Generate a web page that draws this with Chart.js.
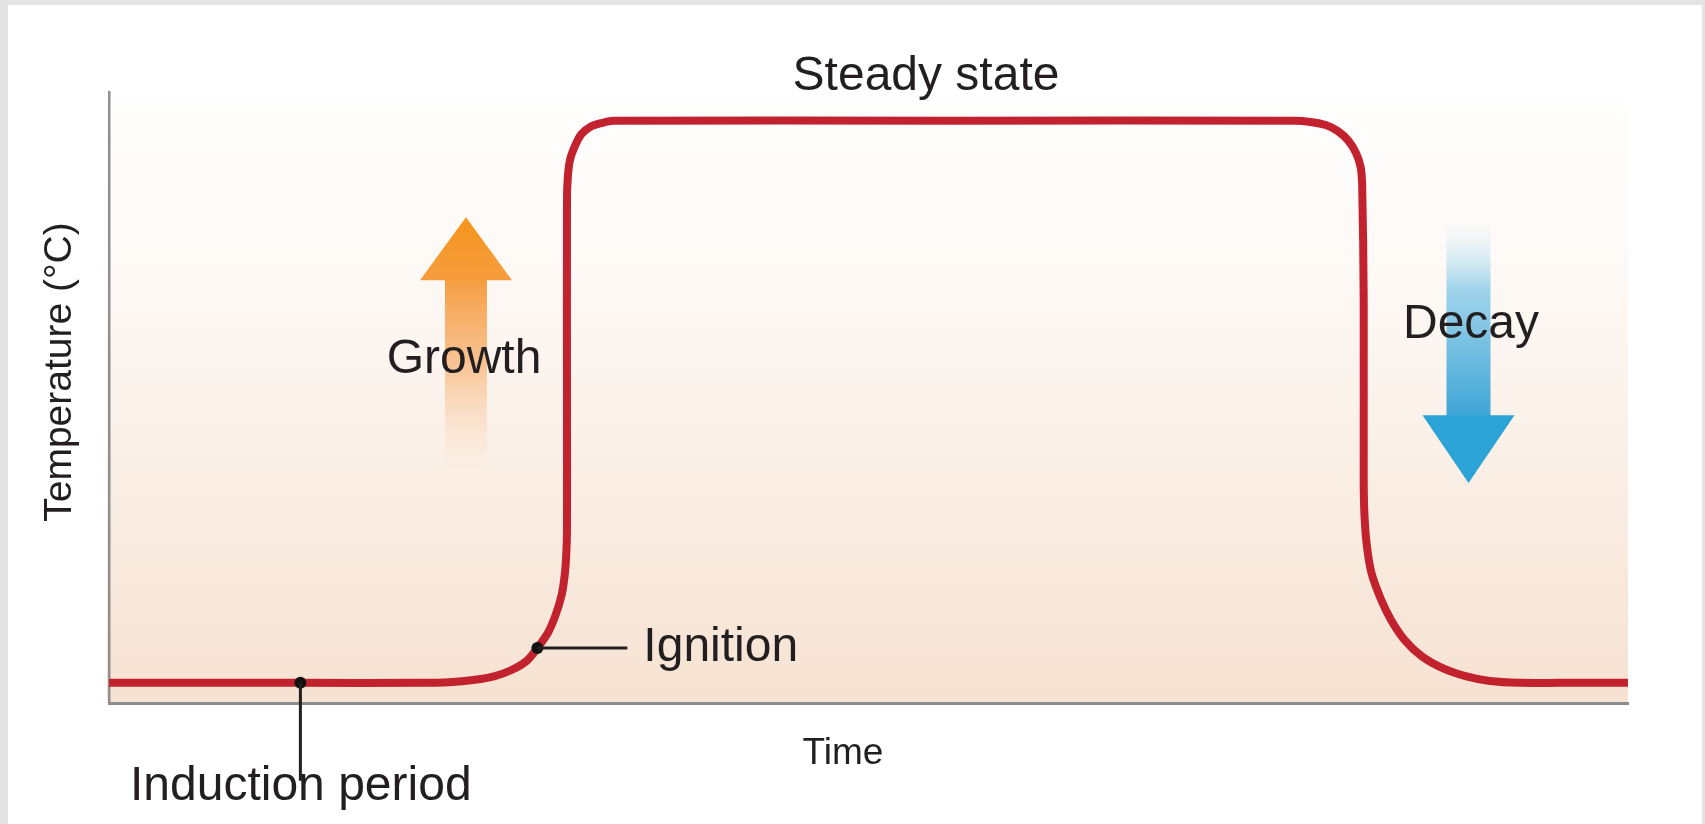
<!DOCTYPE html>
<html>
<head>
<meta charset="utf-8">
<script src="https://cdn.jsdelivr.net/npm/chart.js@4.4.0/dist/chart.umd.min.js"></script>
<style>
  html, body { margin: 0; padding: 0; background: #fff; overflow: hidden; }
  #wrap { width: 1705px; height: 824px; position: relative; }
</style>
</head>
<body>
<div id="wrap"><canvas id="fireChart"></canvas></div>
<script>
// curve (time / temperature, arbitrary units 0..100)
const timeValues = [0, 12.6, 20.5, 22.4, 24.1, 25.4, 26.5, 27.5, 28.2, 28.9, 29.4, 29.8,
  30.0, 30.1, 30.15, 30.15, 30.15, 30.2, 30.35, 30.7, 31.1, 31.7, 32.4, 33.2,
  55.4, 78.1, 79.1, 80.1, 80.9, 81.6, 82.1, 82.4, 82.5, 82.6, 82.6, 82.65,
  82.8, 83.1, 83.7, 84.4, 85.3, 86.4, 87.8, 89.3, 90.9, 92.9, 95.5, 100];
const tempValues = [3.3, 3.3, 3.3, 3.4, 3.8, 4.4, 5.4, 6.9, 9.0, 11.5, 14.4, 17.7,
  20.9, 24.2, 28.3, 49.6, 82.3, 85.9, 88.9, 91.3, 93.1, 94.3, 94.9, 95.3,
  95.3, 95.3, 95.1, 94.6, 93.6, 92.0, 90.0, 87.7, 84.8, 66.0, 36.5, 30.8,
  25.9, 21.4, 17.2, 13.6, 10.3, 7.7, 5.7, 4.4, 3.6, 3.3, 3.3, 3.3];

// marked points on the curve
const markerTimes = [12.6, 28.2];
const markerTemps = [3.3, 9.0];
const markerNames = ['Induction period', 'Ignition'];

const phaseLabels = ['Steady state', 'Growth', 'Decay'];
const xTitle = 'Time';
const yTitle = 'Temperature (°C)';

const FONT = '"Liberation Sans", Arial, Helvetica, sans-serif';
const INK = '#231f20';

// white page, grey frame and the peach panel behind the curve
const backdrop = {
  id: 'backdrop',
  beforeDraw(chart) {
    const ctx = chart.ctx;
    const a = chart.chartArea;
    ctx.save();
    ctx.fillStyle = '#fff';
    ctx.fillRect(0, 0, chart.width, chart.height);
    ctx.fillStyle = '#e4e4e4';
    ctx.fillRect(0, 0, chart.width, 5);
    ctx.fillRect(0, 0, 8, chart.height);
    ctx.fillRect(chart.width - 3, 0, 3, chart.height);

    const g = ctx.createLinearGradient(0, a.top - 15, 0, a.bottom);
    g.addColorStop(0, 'rgba(255,255,255,1)');
    g.addColorStop(0.35, '#fdf8f4');
    g.addColorStop(1, '#f6e2d2');
    ctx.fillStyle = g;
    ctx.fillRect(a.left - 2, a.top - 15, a.right - a.left + 2, a.bottom - a.top + 15);
    ctx.restore();
  }
};

function upArrow(ctx, cx, tipY, baseY, tailY, headHalf, shaftHalf) {
  const sg = ctx.createLinearGradient(0, baseY, 0, tailY);
  sg.addColorStop(0, 'rgba(245,152,55,0.95)');
  sg.addColorStop(0.45, 'rgba(247,175,110,0.7)');
  sg.addColorStop(1, 'rgba(250,215,185,0)');
  ctx.fillStyle = sg;
  ctx.fillRect(cx - shaftHalf, baseY - 1, shaftHalf * 2, tailY - baseY);
  const hg = ctx.createLinearGradient(0, tipY, 0, baseY);
  hg.addColorStop(0, '#f7941d');
  hg.addColorStop(1, '#f59d3e');
  ctx.fillStyle = hg;
  ctx.beginPath();
  ctx.moveTo(cx, tipY);
  ctx.lineTo(cx + headHalf, baseY);
  ctx.lineTo(cx - headHalf, baseY);
  ctx.closePath();
  ctx.fill();
}

function downArrow(ctx, cx, tailY, baseY, tipY, headHalf, shaftHalf) {
  const sg = ctx.createLinearGradient(0, tailY, 0, baseY);
  sg.addColorStop(0, 'rgba(215,238,248,0)');
  sg.addColorStop(0.35, 'rgba(150,208,234,0.9)');
  sg.addColorStop(1, 'rgba(62,165,214,1)');
  ctx.fillStyle = sg;
  ctx.fillRect(cx - shaftHalf, tailY, shaftHalf * 2, baseY - tailY + 1);
  ctx.fillStyle = '#2ba3d7';
  ctx.beginPath();
  ctx.moveTo(cx - headHalf, baseY);
  ctx.lineTo(cx + headHalf, baseY);
  ctx.lineTo(cx, tipY);
  ctx.closePath();
  ctx.fill();
}

const arrows = {
  id: 'arrows',
  beforeDatasetsDraw(chart) {
    const ctx = chart.ctx;
    const x = chart.scales.x, y = chart.scales.y;
    ctx.save();
    upArrow(ctx, x.getPixelForValue(23.5), y.getPixelForValue(79.5), y.getPixelForValue(69.2),
      y.getPixelForValue(38), 46, 21);
    downArrow(ctx, x.getPixelForValue(89.5), y.getPixelForValue(79), y.getPixelForValue(47.1),
      y.getPixelForValue(36), 46, 22);
    ctx.restore();
  }
};

const notes = {
  id: 'notes',
  afterDatasetsDraw(chart) {
    const ctx = chart.ctx;
    const x = chart.scales.x, y = chart.scales.y;
    ctx.save();
    // leader lines from the marked points
    const ix = x.getPixelForValue(markerTimes[0]), iy = y.getPixelForValue(markerTemps[0]);
    const gx = x.getPixelForValue(markerTimes[1]), gy = y.getPixelForValue(markerTemps[1]);
    ctx.strokeStyle = INK;
    ctx.lineWidth = 3;
    ctx.beginPath();
    ctx.moveTo(ix, iy);
    ctx.lineTo(ix, iy + 98);
    ctx.moveTo(gx, gy);
    ctx.lineTo(gx + 90, gy);
    ctx.stroke();

    ctx.fillStyle = INK;
    ctx.textBaseline = 'alphabetic';
    ctx.font = '48px ' + FONT;
    ctx.textAlign = 'center';
    ctx.fillText(phaseLabels[0], 926, 90);
    ctx.fillText(phaseLabels[1], 464, 373);
    ctx.fillText(phaseLabels[2], 1471, 338);
    ctx.textAlign = 'left';
    ctx.fillText(markerNames[1], gx + 106, 661);
    ctx.fillText(markerNames[0], 130, 800);

    ctx.font = '37px ' + FONT;
    ctx.textAlign = 'center';
    ctx.fillText(xTitle, 843, 764);

    ctx.font = '39px ' + FONT;
    ctx.translate(60, 372);
    ctx.rotate(-Math.PI / 2);
    ctx.textBaseline = 'middle';
    ctx.fillText(yTitle, 0, 0);
    ctx.restore();
  }
};

const ctx = document.getElementById('fireChart').getContext('2d');
new Chart(ctx, {
  type: 'line',
  data: {
    datasets: [{
      data: timeValues.map((t, i) => ({ x: t, y: tempValues[i] })),
      borderColor: '#c1222e',
      borderWidth: 8,
      tension: 0.3,
      pointRadius: 0,
      fill: false,
      order: 2
    }, {
      data: markerTimes.map((t, i) => ({ x: t, y: markerTemps[i] })),
      showLine: false,
      pointRadius: 6,
      pointBackgroundColor: '#111',
      pointBorderWidth: 0,
      order: 1
    }]
  },
  options: {
    responsive: true,
    maintainAspectRatio: false,
    animation: false,
    layout: { padding: { left: 109, right: 77, top: 92, bottom: 121 } },
    plugins: { legend: { display: false }, tooltip: { enabled: false } },
    scales: {
      x: {
        type: 'linear', min: 0, max: 100,
        ticks: { display: false },
        grid: { display: false, drawTicks: false },
        border: { display: true, color: '#8c8c8c', width: 3 }
      },
      y: {
        type: 'linear', min: 0, max: 100,
        ticks: { display: false },
        grid: { display: false, drawTicks: false },
        border: { display: true, color: '#8f8f8f', width: 2.5 }
      }
    }
  },
  plugins: [backdrop, arrows, notes]
});
</script>
</body>
</html>
